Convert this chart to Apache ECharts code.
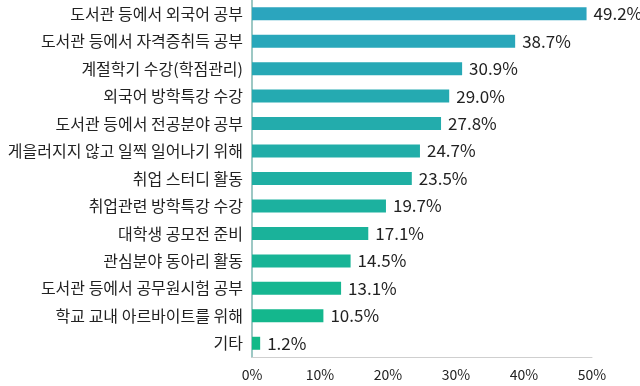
<!DOCTYPE html>
<html><head><meta charset="utf-8">
<script src="https://cdn.jsdelivr.net/npm/echarts@6/dist/echarts.min.js"></script>
<style>html,body{margin:0;padding:0;background:#fff}#c{width:640px;height:386px}</style>
</head><body><div id="c"></div>
<script>
var categories = ["도서관 등에서 외국어 공부","도서관 등에서 자격증취득 공부","계절학기 수강(학점관리)","외국어 방학특강 수강","도서관 등에서 전공분야 공부","게을러지지 않고 일찍 일어나기 위해","취업 스터디 활동","취업관련 방학특강 수강","대학생 공모전 준비","관심분야 동아리 활동","도서관 등에서 공무원시험 공부","학교 교내 아르바이트를 위해","기타"];
var values = [49.2,38.7,30.9,29.0,27.8,24.7,23.5,19.7,17.1,14.5,13.1,10.5,1.2];
var ticks = [0,10,20,30,40,50];

function lerp(a,b,t){return Math.round(a+(b-a)*t);}
function col(i,n){
  var c1=[0x2B,0xA5,0xBE], c2=[0x12,0xB9,0x88];
  var t=i/(n-1);
  return 'rgb('+lerp(c1[0],c2[0],t)+','+lerp(c1[1],c2[1],t)+','+lerp(c1[2],c2[2],t)+')';
}
var data = values.map(function(v,i){return {value:v,itemStyle:{color:col(i,values.length)}};});
var chart = echarts.init(document.getElementById('c'),null,{renderer:'canvas'});
chart.setOption({
  animation:false,
  grid:{left:252,right:48,top:-1.5,bottom:29,containLabel:false},
  xAxis:{type:'value',min:ticks[0],max:ticks[ticks.length-1],interval:10,
    axisLine:{show:true,lineStyle:{color:'#cfcfcf',width:1}},
    axisTick:{show:false},splitLine:{show:false},
    axisLabel:{formatter:'{value}%',color:'#222',fontSize:14,margin:11,fontFamily:'"Noto Sans CJK KR",sans-serif'}},
  yAxis:{type:'category',inverse:true,data:categories,
    axisLine:{show:true,lineStyle:{color:'#9dc8c4',width:2}},
    axisTick:{show:false},
    axisLabel:{color:'#222',fontSize:16,margin:9,fontFamily:'"Noto Sans CJK KR",sans-serif'}},
  series:[{type:'bar',data:data,barWidth:13,
    label:{show:true,position:'right',distance:7,formatter:function(p){return p.value.toFixed(1)+'%';},
      color:'#222',fontSize:17,fontFamily:'"Noto Sans CJK KR",sans-serif'}}]
});
</script></body></html>
